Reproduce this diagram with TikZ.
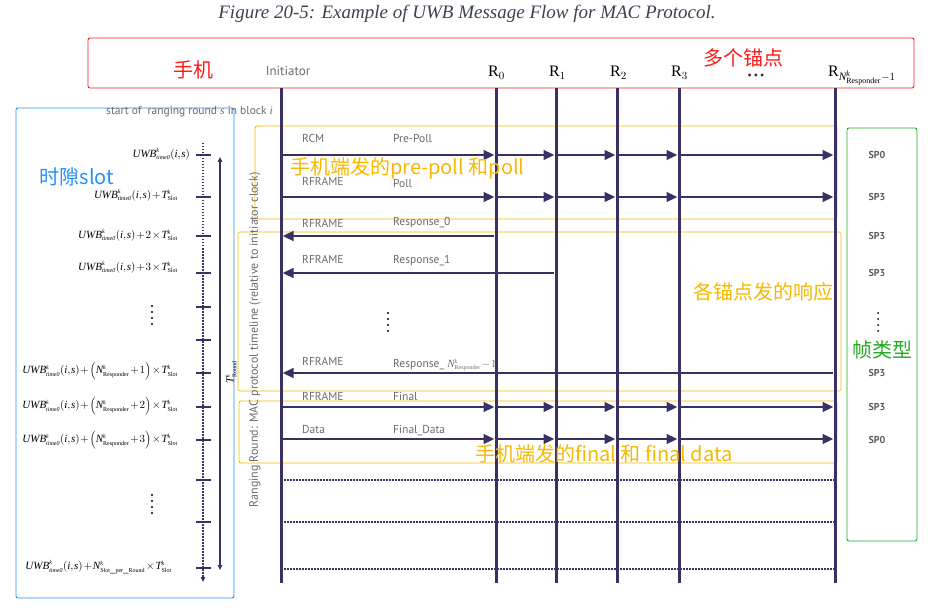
\documentclass[tikz,border=0pt]{standalone}
\usepackage{fontspec}
\setmainfont{Liberation Serif}
\newfontfamily\cjk{Noto Sans CJK SC}
\newfontfamily\lab{PT Sans}
\usetikzlibrary{arrows.meta}
\DeclareMathSizes{11}{11}{6}{5}
\definecolor{life}{HTML}{3B2F63}
\definecolor{labgray}{HTML}{6A6A6A}
\definecolor{boxred}{HTML}{FF1A1A}
\definecolor{boxblue}{HTML}{1E90FF}
\definecolor{boxorange}{HTML}{F7B800}
\definecolor{boxgreen}{HTML}{22AA22}
\definecolor{titlecol}{HTML}{3A4150}
\newcommand{\tightmath}{\thinmuskip=1mu\medmuskip=1.5mu\thickmuskip=2mu}
\newcommand{\uwbbase}{\mathit{UWB}^{\mathit{k}}_{\mathit{time0}}(\mathit{i},\mathit{s})}
\newcommand{\tslot}{\mathit{T}^{\mathit{k}}_{\mathrm{Slot}}}
\newcommand{\nresp}{\mathit{N}^{\mathit{k}}_{\mathrm{Responder}}}
\tikzset{
  lifeline/.style={draw=life, line width=3pt},
  msg/.style={draw=life, line width=2.6pt, -{Triangle[length=11pt,width=9.5pt]}, shorten >=1.5pt, shorten <=1.8pt},
  dotrow/.style={draw=life, line width=2.4pt, dash pattern=on 1.5pt off 1.5pt},
  framebox/.style={rounded corners=2pt, line width=0.9pt},
  lbl/.style={font=\lab\fontsize{11.5}{13}\selectfont, text=labgray, anchor=base west, inner sep=0},
  cn/.style={font=\cjk\fontsize{20}{22}\selectfont, inner sep=0},
  sp/.style={font=\lab\bfseries\fontsize{10}{12}\selectfont, text=labgray!85!black, inner sep=0},
  formula/.style={font=\fontsize{11}{13}\selectfont\tightmath, anchor=east, inner sep=0},
  rlab/.style={font=\fontsize{16}{18}\selectfont, anchor=base west, inner sep=0},
  tickmark/.style={draw=life, line width=1.3pt},
}
\begin{document}
\begin{tikzpicture}[x=1pt,y=-1pt]
\useasboundingbox (0,0) rectangle (931,612);

% title
\node[font=\itshape\fontsize{19}{21}\selectfont, text=titlecol] (title) at (467,14) {Figure 20-5: Example of UWB Message Flow for MAC Protocol.};

% frames
\draw[framebox, draw=boxred] (88,38) rectangle (914,88);
\draw[framebox, draw=boxblue] (16,108) rectangle (234,598);
\draw[framebox, draw=boxorange] (255,126) rectangle (837,219);
\draw[framebox, draw=boxorange, line width=0.6pt] (238,232) rectangle (841,391);
\draw[framebox, draw=boxorange] (239,401) rectangle (837,463);
\draw[framebox, draw=boxgreen] (847,128) rectangle (917,541);

% headers
\node[cn, text=boxred] (shouji) at (193,70) {手机};
\node[cn, text=boxred] (maodian) at (743,58) {多个锚点};
\node[font=\lab\fontsize{13}{15}\selectfont, text=labgray, inner sep=0] (initH) at (288,71) {Initiator};
\node[rlab] (r0H) at (488,77) {R$_{0}$};
\node[rlab] (r1H) at (549,77) {R$_{1}$};
\node[rlab] (r2H) at (610,77) {R$_{2}$};
\node[rlab] (r3H) at (671,77) {R$_{3}$};
\node[font=\fontsize{12}{13}\selectfont, inner sep=0, text=black!80] (dotsH) at (756,77) {\textbullet\,\textbullet\,\textbullet};
\node[rlab] (rnH) at (828,77) {R$_{\mathit{N}^{\mathit{k}}_{\mathrm{Responder}}-1}$};

% lifelines
\foreach \n/\x in {I/281, R0/496, R1/556, R2/617, R3/679, RN/835}{
  \coordinate (\n) at (\x,88);
  \coordinate (\n b) at (\x,583);
  \draw[lifeline] (\n) -- (\n b);
}

% row coordinates
\foreach \n/\y in {yPre/155, yPoll/197, yRa/236, yRb/273, yRn/373, yFin/407, yDat/439, yDa/480, yDb/522, yDc/569}{
  \coordinate (\n) at (0,\y);
}

% initiator broadcasts
\foreach \r in {yPre, yPoll, yFin, yDat}{
  \draw[msg] (I |- \r) -- (R0 |- \r);
  \draw[msg] (R0 |- \r) -- (R1 |- \r);
  \draw[msg] (R1 |- \r) -- (R2 |- \r);
  \draw[msg] (R2 |- \r) -- (R3 |- \r);
  \draw[msg] (R3 |- \r) -- (RN |- \r);
}
% responses
\draw[msg] (R0 |- yRa) -- (I |- yRa);
\draw[msg] (R1 |- yRb) -- (I |- yRb);
\draw[msg] (RN |- yRn) -- (I |- yRn);
% dotted rows
\foreach \r in {yDa, yDb, yDc}{
  \draw[dotrow] (I |- \r) -- (RN |- \r);
}

% message labels
\node[lbl] (l1a) at (302,143) {RCM};
\node[lbl] (l1b) at (393,143) {Pre-Poll};
\node[lbl] (l2a) at (302,186) {RFRAME};
\node[lbl] (l2b) at (393,188) {Poll};
\node[lbl] (l3a) at (302,228) {RFRAME};
\node[lbl] (l3b) at (393,226) {Response\_0};
\node[lbl] (l4a) at (302,264) {RFRAME};
\node[lbl] (l4b) at (393,264) {Response\_1};
\node[lbl] (l5a) at (302,365) {RFRAME};
\node[lbl] (l5b) at (393,367) {Response\_ {\rmfamily\fontsize{11}{13}\selectfont\tightmath$\nresp-1$}};
\node[lbl] (l6a) at (302,400) {RFRAME};
\node[lbl] (l6b) at (393,400) {Final};
\node[lbl] (l7a) at (302,433) {Data};
\node[lbl] (l7b) at (393,433) {Final\_Data};
\foreach \k in {0,1,2,3}{ \fill[black] (388,{313+\k*6}) circle[radius=1.1pt]; }

% orange annotations
\node[cn, text=boxorange, anchor=west] (ann1) at (290,168) {手机端发的pre-poll 和poll};
\node[cn, text=boxorange, anchor=east] (ann2) at (834,292) {各锚点发的响应};
\node[cn, text=boxorange, anchor=west] (ann3) at (475,454) {手机端发的final 和 final data};

% rotated timeline label
\node[font=\lab\fontsize{12}{14}\selectfont, text=labgray, rotate=90, inner sep=0] (tl) at (255,340) {Ranging Round: MAC protocol timeline (relative to initiator clock)};

% right frame types
\node[sp] (sp1) at (877,155) {SP0};
\node[sp] (sp2) at (877,197) {SP3};
\node[sp] (sp3) at (877,236) {SP3};
\node[sp] (sp4) at (877,273) {SP3};
\foreach \k in {0,1,2,3}{ \fill[black] (878,{313+\k*6}) circle[radius=1pt]; }
\node[cn, text=boxgreen] (zhen) at (882,350) {帧类型};
\node[sp] (sp5) at (877,373) {SP3};
\node[sp] (sp6) at (877,407) {SP3};
\node[sp] (sp7) at (877,440) {SP0};

% left side
\node[cn, text=boxblue] (slot) at (77,177) {时隙slot};
\node[font=\lab\fontsize{11.5}{13}\selectfont, text=labgray, anchor=west, inner sep=0] (start) at (106,112) {start of\ \ ranging round {\rmfamily\itshape s} in block {\rmfamily\itshape i}};

\coordinate (axTop) at (203,143);
\coordinate (axBot) at (203,582);
\draw[draw=life, line width=1.3pt, dash pattern=on 1.5pt off 1.5pt, -{Triangle[length=5pt,width=4.5pt]}] (axTop) -- (axBot);
\foreach \y in {155,197,236,273,307,340,373,407,440,480,522,568}{
  \draw[tickmark] (196,\y) -- (211,\y);
}
\coordinate (trTop) at (220,157);
\coordinate (trBot) at (220,570);
\draw[draw=life, line width=1.3pt, {Triangle[length=5pt,width=4.5pt]}-{Triangle[length=5pt,width=4.5pt]}] (trTop) -- (trBot);
\node[rotate=90, font=\fontsize{11}{13}\selectfont, inner sep=0] (tround) at (231,372) {$\mathit{T}^{\mathit{k}}_{\mathrm{Round}}$};

\node[formula] (f0) at (190,154) {$\uwbbase$};
\node[formula] (f1) at (178,195) {$\uwbbase+\tslot$};
\node[formula] (f2) at (178,235) {$\uwbbase+2\times\tslot$};
\node[formula] (f3) at (178,267) {$\uwbbase+3\times\tslot$};
\foreach \k in {0,1,2,3}{ \fill[black] (152,{306+\k*6}) circle[radius=1.1pt]; }
\node[formula] (f4) at (178,371) {$\uwbbase+\left(\nresp+1\right)\times\tslot$};
\node[formula] (f5) at (178,406) {$\uwbbase+\left(\nresp+2\right)\times\tslot$};
\node[formula] (f6) at (178,440) {$\uwbbase+\left(\nresp+3\right)\times\tslot$};
\foreach \k in {0,1,2,3}{ \fill[black] (152,{495+\k*6}) circle[radius=1.1pt]; }
\node[formula] (f7) at (172,567) {$\uwbbase+\mathit{N}^{\mathit{k}}_{\mathrm{Slot\_per\_Round}}\times\tslot$};
\end{tikzpicture}
\end{document}
